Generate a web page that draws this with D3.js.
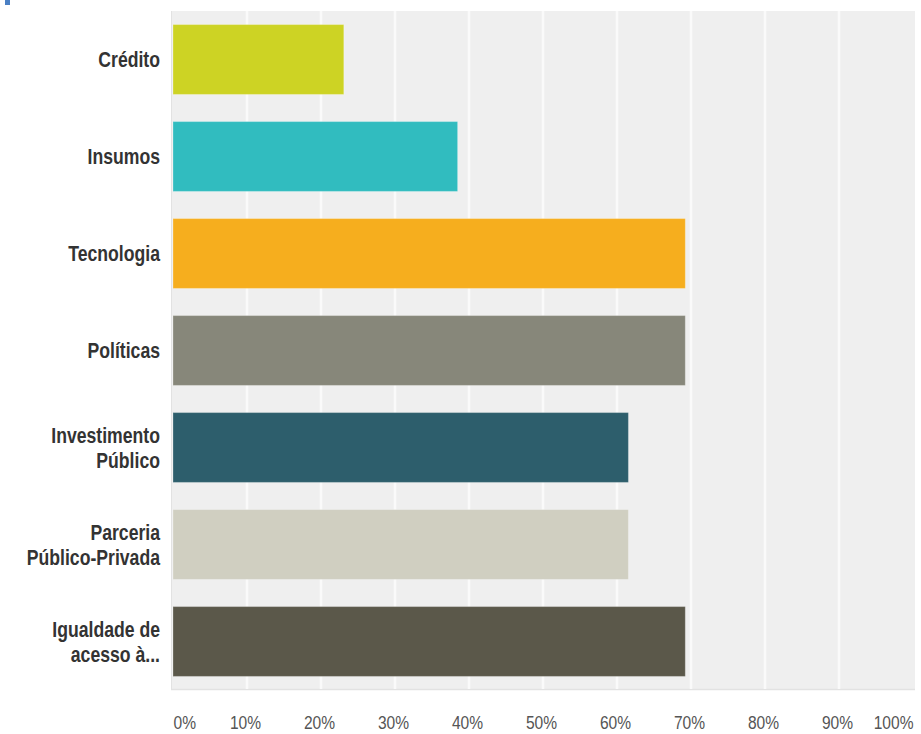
<!DOCTYPE html>
<html>
<head>
<meta charset="utf-8">
<script src="https://cdn.jsdelivr.net/npm/d3@7"></script>
<style>
  html, body { margin: 0; padding: 0; background: #ffffff; }
  svg { display: block; }
</style>
</head>
<body>
<svg id="chart" width="921" height="734"></svg>
<script>
// Answer categories (label lines) and share of respondents, in percent
const categories = [
  ["Crédito"],
  ["Insumos"],
  ["Tecnologia"],
  ["Políticas"],
  ["Investimento", "Público"],
  ["Parceria", "Público-Privada"],
  ["Igualdade de", "acesso à..."]
];
const values = [23.08, 38.46, 69.23, 69.23, 61.54, 61.54, 69.23];
const colors = ["#cdd324", "#31bcbf", "#f6ae1e", "#87877a", "#2d5e6c", "#d0cfc1", "#5b584a"];
const tickValues = [0, 10, 20, 30, 40, 50, 60, 70, 80, 90, 100];
const tickLabels = ["0%", "10%", "20%", "30%", "40%", "50%", "60%", "70%", "80%", "90%", "100%"];

const svg = d3.select("#chart");
const plot = { left: 173, right: 913, top: 11, bottom: 690 };
// condensed lettering: Liberation Sans squeezed horizontally
const fontStack = "'Liberation Sans', Arial, sans-serif";
const squeeze = 0.82;

const x = d3.scaleLinear().domain([0, 100]).range([plot.left, plot.right]);
const y = d3.scaleBand()
  .domain(d3.range(categories.length))
  .range([plot.top, plot.bottom])
  .paddingInner(0.28)
  .paddingOuter(0.14);

// small header accent at the top-left corner
svg.append("rect").attr("x", 5).attr("y", 0).attr("width", 5).attr("height", 5).attr("fill", "#4a80c4");

// plot background with a faint frame on the left and bottom
svg.append("rect")
  .attr("x", plot.left - 2).attr("y", plot.top)
  .attr("width", plot.right - plot.left + 4).attr("height", plot.bottom - plot.top)
  .attr("fill", "#efefef");
svg.append("line")
  .attr("x1", plot.left - 1.5).attr("x2", plot.left - 1.5)
  .attr("y1", plot.top).attr("y2", plot.bottom)
  .attr("stroke", "#e2e2e2").attr("stroke-width", 1);
svg.append("line")
  .attr("x1", plot.left - 2).attr("x2", plot.right + 2)
  .attr("y1", plot.bottom - 0.5).attr("y2", plot.bottom - 0.5)
  .attr("stroke", "#e2e2e2").attr("stroke-width", 1.5);

// vertical white gridlines
svg.append("g")
  .selectAll("line")
  .data(tickValues.slice(1, -1))
  .join("line")
  .attr("x1", d => x(d)).attr("x2", d => x(d))
  .attr("y1", plot.top).attr("y2", plot.bottom - 1)
  .attr("stroke", "#fafafa").attr("stroke-width", 2.5);

// bars
svg.append("g")
  .selectAll("rect")
  .data(values)
  .join("rect")
  .attr("x", x(0))
  .attr("y", (d, i) => y(i))
  .attr("width", d => x(d) - x(0))
  .attr("height", y.bandwidth())
  .attr("fill", (d, i) => colors[i])
  .attr("stroke", "#ffffff")
  .attr("stroke-opacity", 0.25)
  .attr("stroke-width", 1);

// category labels, right-aligned next to the bars
const labels = svg.append("g")
  .selectAll("text")
  .data(categories)
  .join("text")
  .attr("text-anchor", "end")
  .attr("transform", `translate(160,0) scale(${squeeze},1)`)
  .attr("font-family", fontStack)
  .attr("font-weight", "bold")
  .attr("font-size", 21.5)
  .attr("fill", "#333333");
labels.each(function (lines, i) {
  const cy = y(i) + y.bandwidth() / 2;
  const lh = 25;
  const start = cy - (lines.length - 1) * lh / 2;
  d3.select(this).selectAll("tspan")
    .data(lines)
    .join("tspan")
    .attr("x", 0)
    .attr("y", (d, k) => start + k * lh)
    .attr("dy", "0.35em")
    .text(d => d);
});

// percentage axis below the plot
const axis = d3.axisBottom(x)
  .tickValues(tickValues)
  .tickFormat((d, i) => tickLabels[i])
  .tickSize(0)
  .tickPadding(0);
const axisG = svg.append("g")
  .attr("transform", `translate(0, 715.5)`)
  .call(axis);
axisG.select(".domain").remove();
const last = tickValues.length - 1;
axisG.selectAll("text")
  .attr("font-family", fontStack)
  .attr("font-size", 19)
  .attr("fill", "#555555")
  .attr("dy", "0.71em")
  .attr("text-anchor", (d, i) => i === 0 ? "start" : (i === last ? "end" : "middle"))
  .attr("transform", (d, i) => `translate(${i === 0 || i === last ? 0 : -2},0) scale(${squeeze},1)`);
</script>
</body>
</html>
